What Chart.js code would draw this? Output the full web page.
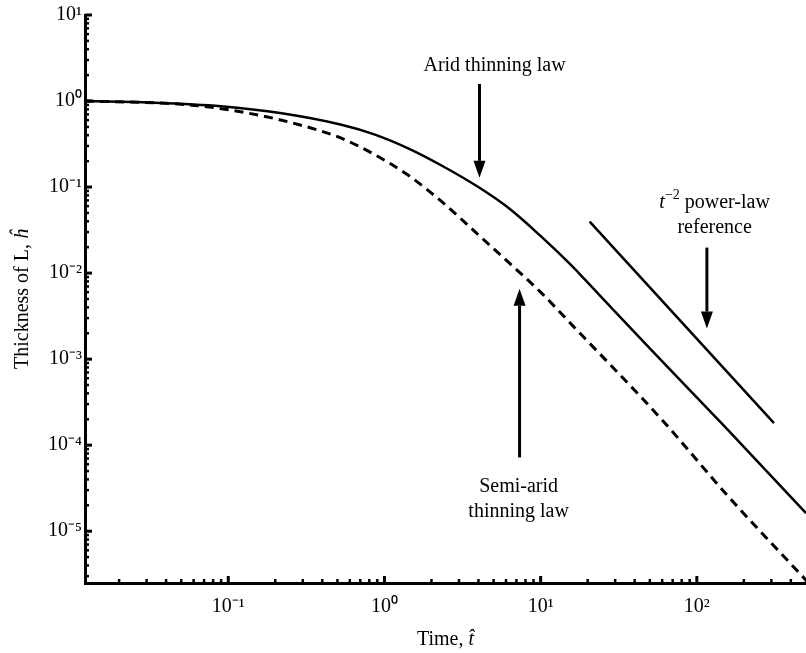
<!DOCTYPE html>
<html>
<head>
<meta charset="utf-8">
<script src="https://cdn.jsdelivr.net/npm/chart.js@4.4.1/dist/chart.umd.min.js"></script>
<style>
  html, body { margin: 0; padding: 0; background: #fff; }
  #wrap { width: 806px; height: 653px; position: relative; }
</style>
</head>
<body>
<div id="wrap"><canvas id="thinChart"></canvas></div>
<script>
// values: dimensionless time t^ and thickness h^
const aridT = [0.0121, 0.032, 0.09, 0.22, 0.53, 0.86, 1.43, 2.32, 4.06, 6.24, 10.1, 15.8, 19.1, 50, 150, 500];
const aridH = [1.0, 0.96, 0.87, 0.72, 0.53, 0.41, 0.28, 0.178, 0.098, 0.057, 0.0265, 0.0122, 0.0085, 0.00133, 0.000166, 0.0000162];

const semiT = [0.0121, 0.04, 0.069, 0.13, 0.21, 0.39, 0.53, 0.86, 1.43, 2.32, 3.78, 6.24, 10.1, 15.3, 59.7, 160, 500];
const semiH = [1.0, 0.94, 0.87, 0.73, 0.61, 0.45, 0.37, 0.24, 0.136, 0.068, 0.0305, 0.0133, 0.0059, 0.00268, 0.000198, 0.000025, 0.0000027];

// t^-2 reference segment
const refT = [20.6, 312];
const refH = [0.0396, 0.00018];

const xTickValues = [0.1, 1, 10, 100];
const xTickLabels = ['10⁻¹', '10⁰', '10¹', '10²'];
const yTickValues = [0.00001, 0.0001, 0.001, 0.01, 0.1, 1, 10];
const yTickLabels = ['10⁻⁵', '10⁻⁴', '10⁻³', '10⁻²', '10⁻¹', '10⁰', '10¹'];

// arrows (data units): x, tail, head
const arrowT = [4.06, 7.33, 116];
const arrowFromH = [1.58, 0.000072, 0.0198];
const arrowToH = [0.128, 0.0066, 0.00227];

const ink = '#000';
const serif = '"Liberation Serif", "Times New Roman", Times, serif';

Chart.defaults.color = ink;
Chart.defaults.font.family = serif;

const toPoints = (ts, hs) => ts.map((t, i) => ({ x: t, y: hs[i] }));

// draw a row of text runs centred on cx
function drawRuns(ctx, runs, cx, baseline) {
    let total = 0;
    runs.forEach(r => { ctx.font = r.font; total += ctx.measureText(r.text).width; });
    let x = cx - total / 2;
    runs.forEach(r => {
        ctx.font = r.font;
        ctx.fillText(r.text, x, baseline + (r.dy || 0));
        x += ctx.measureText(r.text).width;
    });
}

function drawArrow(ctx, x, yFrom, yTo) {
    const dir = Math.sign(yTo - yFrom);
    const headLen = 17, headHalf = 6;
    ctx.lineWidth = 3;
    ctx.beginPath();
    ctx.moveTo(x, yFrom);
    ctx.lineTo(x, yTo - dir * headLen);
    ctx.stroke();
    ctx.beginPath();
    ctx.moveTo(x, yTo);
    ctx.lineTo(x - headHalf, yTo - dir * headLen);
    ctx.lineTo(x + headHalf, yTo - dir * headLen);
    ctx.closePath();
    ctx.fill();
}

const plain = '20px ' + serif;
const italic = 'italic 20px ' + serif;
const small = '14px ' + serif;

const figureMarks = {
    id: 'figureMarks',
    afterDatasetsDraw(chart) {
        const { ctx, chartArea: area, scales: { x, y } } = chart;
        ctx.save();
        ctx.strokeStyle = ink;
        ctx.fillStyle = ink;

        // inward log ticks
        for (let e = -2; e <= 2; e++) {
            for (let m = 1; m <= 9; m++) {
                const v = m * Math.pow(10, e);
                if (v < x.min * 0.999 || v > x.max * 1.001) continue;
                const px = x.getPixelForValue(v);
                ctx.lineWidth = m === 1 ? 3 : 2.5;
                ctx.beginPath();
                ctx.moveTo(px, area.bottom);
                ctx.lineTo(px, area.bottom - (m === 1 ? 7 : 4));
                ctx.stroke();
            }
        }
        for (let e = -6; e <= 1; e++) {
            for (let m = 1; m <= 9; m++) {
                const v = m * Math.pow(10, e);
                if (v < y.min * 0.999 || v > y.max * 1.001) continue;
                const py = y.getPixelForValue(v);
                ctx.lineWidth = m === 1 ? 3 : 2.5;
                ctx.beginPath();
                ctx.moveTo(area.left, py);
                ctx.lineTo(area.left + (m === 1 ? 7 : 4), py);
                ctx.stroke();
            }
        }

        // arrows
        arrowT.forEach((t, i) => {
            drawArrow(ctx, x.getPixelForValue(t), y.getPixelForValue(arrowFromH[i]), y.getPixelForValue(arrowToH[i]));
        });

        // annotations
        ctx.textBaseline = 'alphabetic';
        drawRuns(ctx, [{ text: 'Arid thinning law', font: plain }], x.getPixelForValue(5.07), y.getPixelForValue(2.24));
        drawRuns(ctx, [{ text: 'Semi-arid', font: plain }], x.getPixelForValue(7.23), y.getPixelForValue(0.0000284));
        drawRuns(ctx, [{ text: 'thinning law', font: plain }], x.getPixelForValue(7.23), y.getPixelForValue(0.0000146));
        drawRuns(ctx, [
            { text: 't', font: italic },
            { text: '−2', font: small, dy: -9 },
            { text: ' power-law', font: plain }
        ], x.getPixelForValue(130), y.getPixelForValue(0.0575));
        drawRuns(ctx, [{ text: 'reference', font: plain }], x.getPixelForValue(130), y.getPixelForValue(0.0295));

        // axis titles
        drawRuns(ctx, [{ text: 'Time, ', font: plain }, { text: 't̂', font: italic }], (area.left + area.right) / 2, 645);
        ctx.translate(28, (area.top + area.bottom) / 2);
        ctx.rotate(-Math.PI / 2);
        drawRuns(ctx, [{ text: 'Thickness of L, ', font: plain }, { text: 'ĥ', font: italic }], 0, 0);
        ctx.restore();
    }
};

new Chart(document.getElementById('thinChart'), {
    type: 'line',
    data: {
        datasets: [
            {
                label: 'Arid thinning law',
                data: toPoints(aridT, aridH),
                borderColor: ink,
                borderWidth: 2.5,
                pointRadius: 0,
                cubicInterpolationMode: 'monotone'
            },
            {
                label: 'Semi-arid thinning law',
                data: toPoints(semiT, semiH),
                borderColor: ink,
                borderWidth: 3,
                borderDash: [9, 6],
                pointRadius: 0,
                cubicInterpolationMode: 'monotone'
            },
            {
                label: 't^-2 power-law reference',
                data: toPoints(refT, refH),
                borderColor: ink,
                borderWidth: 2.5,
                pointRadius: 0
            }
        ]
    },
    options: {
        responsive: true,
        maintainAspectRatio: false,
        animation: false,
        layout: { padding: { top: 14, right: 0, bottom: 0, left: 0 } },
        plugins: {
            legend: { display: false },
            tooltip: { enabled: false }
        },
        scales: {
            x: {
                type: 'logarithmic',
                min: 0.0121,
                max: 500,
                grid: { display: false, drawTicks: false },
                border: { display: true, color: ink, width: 3 },
                afterBuildTicks(scale) { scale.ticks = xTickValues.map(v => ({ value: v })); },
                afterFit(scale) { scale.height = 70; },
                ticks: {
                    autoSkip: false,
                    maxRotation: 0,
                    padding: 12,
                    color: ink,
                    font: { size: 20, family: serif },
                    callback: (value, index) => xTickLabels[index]
                }
            },
            y: {
                type: 'logarithmic',
                min: 0.0000025,
                max: 10,
                grid: { display: false, drawTicks: false },
                border: { display: true, color: ink, width: 3 },
                afterBuildTicks(scale) { scale.ticks = yTickValues.map(v => ({ value: v })); },
                afterFit(scale) { scale.width = 85; },
                ticks: {
                    autoSkip: false,
                    padding: 3,
                    color: ink,
                    font: { size: 20, family: serif },
                    callback: (value, index) => yTickLabels[index]
                }
            }
        }
    },
    plugins: [figureMarks]
});
</script>
</body>
</html>
